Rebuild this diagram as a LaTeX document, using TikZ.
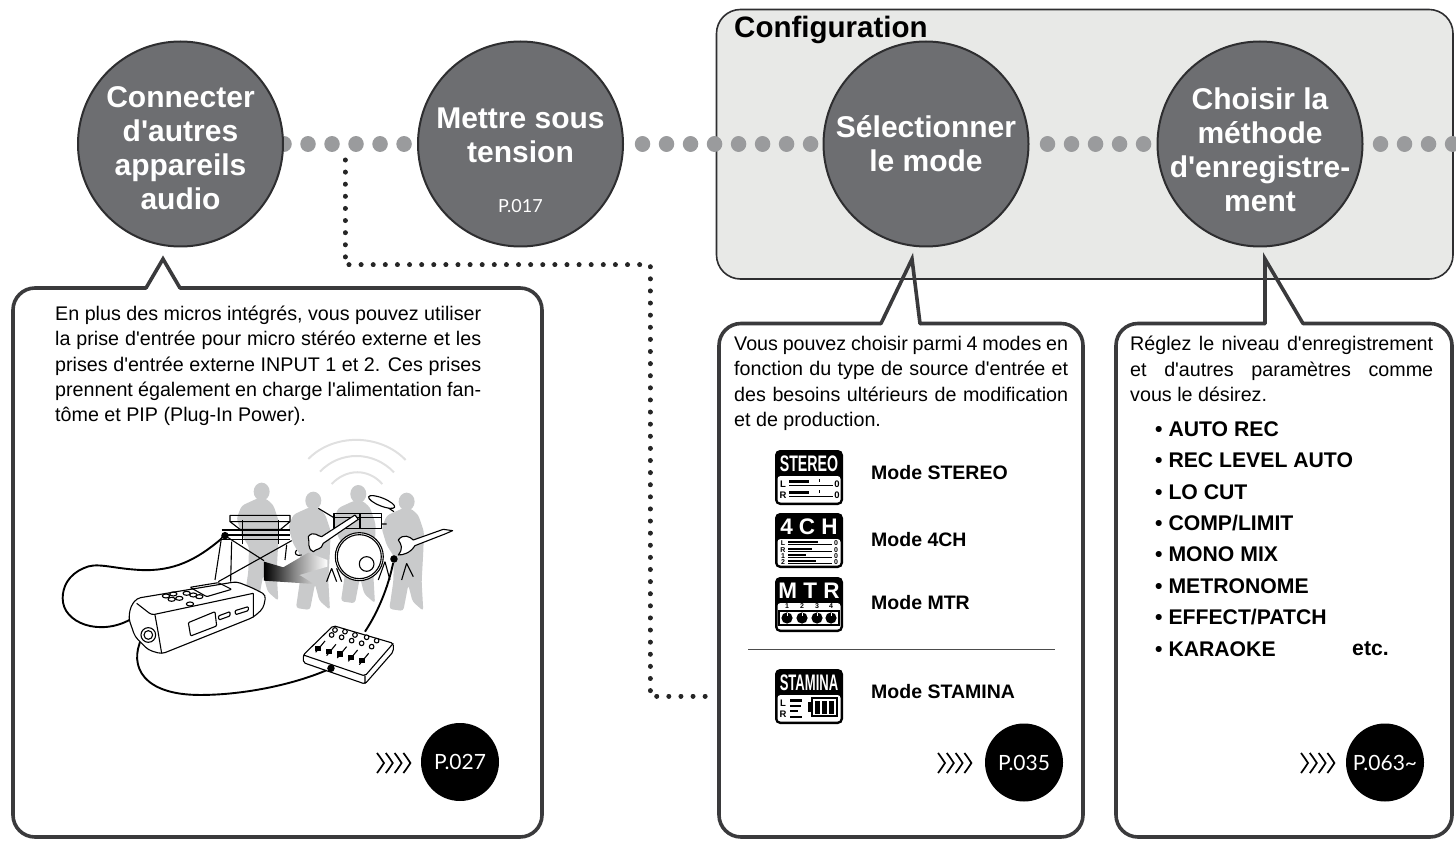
\documentclass[tikz,border=0pt]{standalone}
\usepackage{fontspec}
\defaultfontfeatures[\rmfamily]{}
\setmainfont{Liberation Sans}
\newfontfamily\pagefont{Lato}
\usepackage{xcolor}
\usepackage{tikz}
\usetikzlibrary{positioning, calc, backgrounds}
\definecolor{disc}{HTML}{6D6E71}
\definecolor{discline}{HTML}{2E2E30}
\definecolor{panelline}{HTML}{3A3A3C}
\definecolor{confbg}{HTML}{E8E9E7}
\definecolor{stepdot}{HTML}{9A9B9D}
\definecolor{crowd}{HTML}{C9CACB}

\begin{document}
\begin{tikzpicture}[
    x=1pt, y=-1pt,
    % discs of the main row
    stepdisc/.style={circle, draw=discline, line width=2pt, fill=disc, minimum size=205pt, inner sep=0pt},
    steptext/.style={text=white, align=center, inner sep=0pt, font=\bfseries\fontsize{30}{34}\selectfont},
    dotline/.style={stepdot, line width=15.5pt, line cap=round, dash pattern=on 0.01pt off 24pt},
    smalldots/.style={black!85, line width=5pt, line cap=round, dash pattern=on 0.01pt off 12.1pt},
    % panels below the row
    panelbox/.style={draw=panelline, line width=3.6pt, line join=miter, line cap=round},
    bodytext/.style={anchor=north west, inner sep=0pt, align=justify, font=\fontsize{19.7}{25.4}\selectfont},
    modelabel/.style={anchor=west, inner sep=0pt, font=\bfseries\fontsize{19.5}{22}\selectfont},
    listlabel/.style={anchor=west, inner sep=0pt, font=\bfseries\fontsize{21.2}{24}\selectfont},
    pagedisc/.style={circle, fill=black, text=white, minimum size=78pt, inner sep=0pt, font=\pagefont\fontsize{21}{24}\selectfont},
    chevron/.style={line width=1.7pt, line join=miter},
    % mode icons
    icontitle/.style={text=white, inner sep=0pt, font=\bfseries\fontsize{22.5}{24}\selectfont},
    metertext/.style={inner sep=0pt, font=\bfseries\fontsize{9.5}{10}\selectfont},
    tinytext/.style={inner sep=0pt, font=\bfseries\fontsize{7}{7}\selectfont},
    % recording scene
    inkline/.style={line width=1.1pt, line join=round},
    cable/.style={line width=1.9pt},
    jack/.style={circle, fill=black, minimum size=7.5pt, inner sep=0pt}
]
    \useasboundingbox (0,0) rectangle (1456,842);

    % --- MAIN ROW ---
    \node (connect) [stepdisc] at (180.5,144) {};
    \node (power) [stepdisc] at (520.5,144) {};
    \node (mode) [stepdisc] at (926,144) {};
    \node (method) [stepdisc] at (1260,144) {};
    \coordinate (rowend) at (1458,144);

    \node (connecttext) [steptext] at (180.5,148) {Connecter\\d'autres\\appareils\\audio};
    \node (powertext) [steptext] at (520.5,135) {Mettre sous\\tension};
    \node (powerpage) [text=white, inner sep=0pt, font=\pagefont\fontsize{18}{20}\selectfont] at (520.5,206) {P.017};
    \node (modetext) [steptext] at (926,144) {S\'electionner\\le mode};
    \node (methodtext) [steptext] at (1260,149.5) {Choisir la\\m\'ethode\\d'enregistre-\\ment};

    % --- CONFIGURATION BOX AND DOTS, BEHIND THE DISCS ---
    \begin{scope}[on background layer]
        \draw[fill=confbg, draw=discline, line width=1.6pt, rounded corners=24pt] (716.5,9.5) rectangle (1453,279);
        \draw[dotline] (connect) -- (power);
        \draw[dotline, dash phase=5.5pt] (power) -- (mode);
        \draw[dotline, dash phase=6pt] (mode) -- (method);
        \draw[dotline, dash phase=7pt] (method) -- (rowend);
    \end{scope}
    \node (conftitle) [anchor=west, inner sep=0pt, font=\bfseries\fontsize{29.5}{32}\selectfont] at (734,30) {Configuration};

    % --- BRANCH TO THE MODE PANEL ---
    \coordinate (tap) at (345,160);
    \coordinate (bend) at (650,265);
    \coordinate (entry) at (712,696);
    \draw[smalldots] (tap) |- (bend) |- (entry);

    % --- PANELS ---
    \draw[panelbox, rounded corners=22pt] (180,288) -- (542,288) -- (542,837) -- (13,837) -- (13,288) -- (146,288);
    \draw[panelbox] (146,288) -- (163,259) -- (180,288);
    \draw[panelbox, rounded corners=22pt] (920,323.5) -- (1083,323.5) -- (1083,837) -- (719,837) -- (719,323.5) -- (881,323.5);
    \draw[panelbox] (881,323.5) -- (912,259) -- (920,323.5);
    \draw[panelbox, rounded corners=22pt] (1303,323.5) -- (1452,323.5) -- (1452,837) -- (1116,837) -- (1116,323.5) -- (1265,323.5);
    \draw[panelbox] (1265,323.5) -- (1265,259) -- (1303,323.5);

    \node (connectnote) [bodytext, text width=426pt] at (55,305.5) {En plus des micros int\'egr\'es, vous pouvez utiliser\linebreak la prise d'entr\'ee pour micro st\'er\'eo externe et les\linebreak prises d'entr\'ee externe INPUT 1 et 2. Ces prises\linebreak prennent \'egalement en charge l'alimentation fan-\linebreak t\^ome et PIP (Plug-In Power).};
    \node (modenote) [bodytext, text width=334pt] at (734,336) {Vous pouvez choisir parmi 4 modes en\linebreak fonction du type de source d'entr\'ee et\linebreak des besoins ult\'erieurs de modification\linebreak et de production.};
    \node (methodnote) [bodytext, text width=303pt] at (1130,336) {R\'eglez le niveau d'enregistrement\linebreak et d'autres param\`etres comme\linebreak vous le d\'esirez.};

    % --- RECORDING OPTIONS ---
    \foreach \option [count=\i] in {AUTO REC, REC LEVEL AUTO, LO CUT, COMP/LIMIT, MONO MIX, METRONOME, EFFECT/PATCH, KARAOKE}
        \node (option\i) [listlabel] at (1155,{429+31.4*(\i-1)}) {\textbullet\ \option};
    \node (optionetc) [listlabel] at (1352,649) {etc.};

    % --- MODE ICONS ---
    \foreach \iconname/\ytop in {stereo/450, four/513, mtr/577, stamina/669} {
        \fill[black, rounded corners=5pt] (775,\ytop) rectangle (843,\ytop+55);
        \fill[white, rounded corners=3pt] (777.5,\ytop+26) rectangle (840.5,\ytop+52.5);
    }
    \node (stereotitle) [icontitle, xscale=.63] at (809,463.5) {STEREO};
    \node (fourtitle) [icontitle] at (809,526.5) {4 C H};
    \node (mtrtitle) [icontitle] at (809,590.5) {M T R};
    \node (staminatitle) [icontitle, xscale=.58] at (809,682.5) {STAMINA};

    % stereo meters
    \foreach \rowname/\ry in {L/484, R/495} {
        \node (stereo\rowname) [metertext] at (783,\ry) {\rowname};
        \fill (789,\ry-4) rectangle (809,\ry-1);
        \draw[line width=1pt] (789,\ry+1) -- (833,\ry+1);
        \draw[line width=1pt] (819,\ry-5) -- (819,\ry-2);
        \node (stereozero\rowname) [metertext] at (837,\ry) {0};
    }
    % four channel meters
    \foreach \rowname/\ry/\barend in {L/543/818, R/550/812, 1/556/806, 2/562/816} {
        \node (four\rowname) [tinytext] at (783,\ry) {\rowname};
        \fill (788,\ry-2.2) rectangle (\barend,\ry-.4);
        \draw[line width=.7pt] (788,\ry+1) -- (832,\ry+1);
        \node (fourzero\rowname) [tinytext] at (836,\ry) {0};
    }
    % mtr knobs
    \draw[line width=1.2pt] (779,611) rectangle (839,625);
    \foreach \knob/\kx in {1/787, 2/802, 3/817, 4/831} {
        \node (mtrnum\knob) [tinytext] at (\kx,606) {\knob};
        \fill (\kx,618) circle (5.6);
        \draw[white, line width=.8pt] (\kx,613) -- (\kx,616);
    }
    % stamina meters and battery
    \node (staminaL) [metertext] at (783,703) {L};
    \node (staminaR) [metertext] at (783,714) {R};
    \fill (790,699) rectangle (802,702);
    \fill (790,705) rectangle (801,707);
    \fill (790,710) rectangle (798,712);
    \fill (790,716) rectangle (802,718);
    \draw[line width=1.6pt] (812,698) rectangle (837,716);
    \fill (808,702) rectangle (811,712);
    \foreach \cell in {815,822,829}
        \fill (\cell,700.5) rectangle (\cell+5,713.5);

    \node (stereolabel) [modelabel] at (871,473) {Mode STEREO};
    \node (fourlabel) [modelabel] at (871,540) {Mode 4CH};
    \node (mtrlabel) [modelabel] at (871,603) {Mode MTR};
    \node (staminalabel) [modelabel] at (871,692) {Mode STAMINA};
    \draw[line width=.9pt, black!70] (748,649.5) -- (1055,649.5);

    % --- PAGE MARKS ---
    \node (connectpage) [pagedisc] at (460,762) {P.027};
    \node (modepage) [pagedisc] at (1024,762.5) {P.035};
    \node (methodpage) [pagedisc] at (1385,762.5) {P.063\textasciitilde};
    \foreach \sx in {377,938,1301}
        \foreach \k in {0,1,2,3}
            \draw[chevron] ({\sx+\k*8.8},753) .. controls ({\sx+\k*8.8+3},757) .. ({\sx+\k*8.8+7},763) .. controls ({\sx+\k*8.8+3},769) .. ({\sx+\k*8.8},773);

    % --- RECORDING SCENE (in crop units) ---
    \begin{scope}[shift={(40,380)}, x=0.3333pt, y=-0.3333pt]
        % radio waves
        \draw[black!12, line width=2pt] (805,237) .. controls (880,160) and (1020,160) .. (1097,240);
        \draw[black!12, line width=2pt] (840,275) .. controls (900,212) and (1000,212) .. (1062,277);
        \draw[black!12, line width=2pt] (875,312) .. controls (920,265) and (985,265) .. (1027,312);

        % musicians
        \foreach \px/\py in {665/335, 955/342, 820/362, 1100/365} {
            \begin{scope}[shift={(\px,\py)}]
                \fill[crowd] (0,0) ellipse (24 and 27);
                \fill[crowd, rounded corners=3pt] (-12,20) -- (-60,42) -- (-75,80) -- (-60,130) -- (-38,165) -- (-40,240) -- (-52,322) -- (-10,328) -- (5,250) -- (18,300) -- (50,328) -- (45,240) -- (50,150) -- (52,90) -- (35,40) -- (12,20) -- cycle;
            \end{scope}
        }

        % keyboard
        \draw[inkline] (570,406) -- (750,406) -- (750,425) -- (722,448) -- (600,448) -- (570,425) -- cycle (570,425) -- (750,425);
        \draw[inkline] (545,450) -- (750,450) (545,465) -- (750,465) (545,478) -- (750,478);
        \draw[inkline] (608,420) -- (608,492) (715,420) -- (715,492);
        \draw[inkline] (545,470) -- (525,600) (575,485) -- (572,605) (555,467) -- (672,542) (755,482) -- (535,605) (740,495) -- (735,540);

        % drums
        \draw[inkline] (882,401) rectangle (960,445) (960,401) rectangle (1024,445);
        \draw[inkline] (882,412) -- (1024,412);
        \draw[inkline] (835,385) -- (885,415) (1032,375) -- (1062,395) (1024,432) -- (1040,432);
        \draw[inkline, fill=white] (958,530) circle (72);
        \draw[inkline] (958,530) circle (66);
        \draw[inkline] (980,552) circle (22);
        \draw[inkline] (875,565) -- (860,605) (875,565) -- (890,605) (890,565) -- (905,605);
        \draw[inkline] (1035,545) -- (1015,600) (1035,545) -- (1050,600) (1100,550) -- (1085,600) (1100,550) -- (1120,590);
        \draw[inkline, fill=white] (1025,366) ellipse [x radius=42, y radius=12, rotate=-22];

        % guitars
        \draw[inkline, fill=white] (805,470) .. controls (820,450) and (835,470) .. (845,470) -- (945,405) -- (955,418) -- (850,490) .. controls (845,510) and (830,505) .. (820,515) .. controls (800,505) and (810,490) .. (805,470) -- cycle;
        \draw[inkline, fill=white] (1075,480) .. controls (1090,460) and (1110,470) .. (1120,480) -- (1210,448) -- (1238,452) -- (1215,462) -- (1125,497) .. controls (1110,520) and (1090,525) .. (1075,525) .. controls (1090,505) and (1085,495) .. (1075,480) -- cycle;
        \draw[inkline] (770,510) .. controls (760,520) and (770,530) .. (785,525);

        % arrow from the stage to the recorder
        \shade[left color=black, right color=white, middle color=black!45] (672,545) -- (730,562) -- (805,518) -- (862,540) -- (862,560) -- (778,585) -- (822,612) -- (672,602) -- cycle;

        % cables
        \node (keyjack) [jack] at (555,467) {};
        \node (guitarjack) [jack] at (1062,537) {};
        \node (mixerjack) [jack] at (873,865) {};
        \coordinate (recleft) at (272,718);
        \coordinate (recright) at (305,775);
        \coordinate (mixertop) at (975,755);
        \draw[cable] (keyjack) .. controls (470,540) and (400,575) .. (300,570) .. controls (210,565) and (170,545) .. (130,565) .. controls (85,585) and (68,620) .. (68,655) .. controls (68,730) and (180,770) .. (recleft);
        \draw[cable] (recright) .. controls (265,860) and (310,945) .. (480,945) .. controls (620,945) and (770,910) .. (mixerjack);
        \draw[cable] (guitarjack) .. controls (1045,620) and (1015,695) .. (mixertop);

        % recorder
        \draw[inkline, fill=white, rounded corners=4pt] (272,680) -- (290,655) -- (590,605) -- (640,625) -- (678,645) -- (670,685) -- (640,712) -- (365,822) -- (325,810) -- (285,770) -- (266,715) -- cycle;
        \draw[inkline, rounded corners=3pt] (290,670) -- (335,705) -- (500,670) -- (640,640) (345,705) -- (355,760) -- (365,820) (640,640) -- (640,712);
        \draw[inkline] (325,765) circle (22) (325,765) circle (13);
        \draw[inkline, rounded corners=1pt] (445,728) -- (525,695) -- (530,738) -- (452,768) -- cycle;
        \draw[inkline, rounded corners=1pt] (535,708) -- (570,695) -- (570,708) -- (537,720) -- cycle;
        \draw[inkline, rounded corners=1pt] (585,692) -- (625,680) -- (625,692) -- (587,704) -- cycle;
        \foreach \bx/\by in {378/648, 400/642, 395/658, 418/655, 440/640, 460/645, 478/650, 450/672} {
            \draw[inkline] (\bx,\by) ellipse (11 and 6);
        }
        \draw[inkline, rounded corners=1pt] (450,622) -- (535,608) -- (575,628) -- (500,650) -- cycle;

        % mixer
        \draw[inkline, fill=white, rounded corners=2pt] (790,825) -- (880,737) -- (1060,790) -- (1060,815) -- (975,912) -- (790,848) -- cycle;
        \draw[inkline, rounded corners=2pt] (790,825) -- (975,888) -- (1060,790) (975,888) -- (975,912);
        \foreach \kx/\ky in {885/750, 915/755, 945/765, 980/772, 1010/782, 875/765, 905/772, 935/782, 965/790, 995/800} {
            \draw[inkline, fill=white] (\kx,\ky) circle (7);
        }
        \foreach \fx/\fy in {835/805, 868/815, 900/822, 933/832, 966/842} {
            \draw[inkline] (\fx-8,\fy+12) -- (\fx+20,\fy-22);
            \fill (\fx-9,\fy-8) rectangle (\fx+9,\fy+8);
        }
        \node at (mixerjack) [jack] {};
    \end{scope}
\end{tikzpicture}
\end{document}
